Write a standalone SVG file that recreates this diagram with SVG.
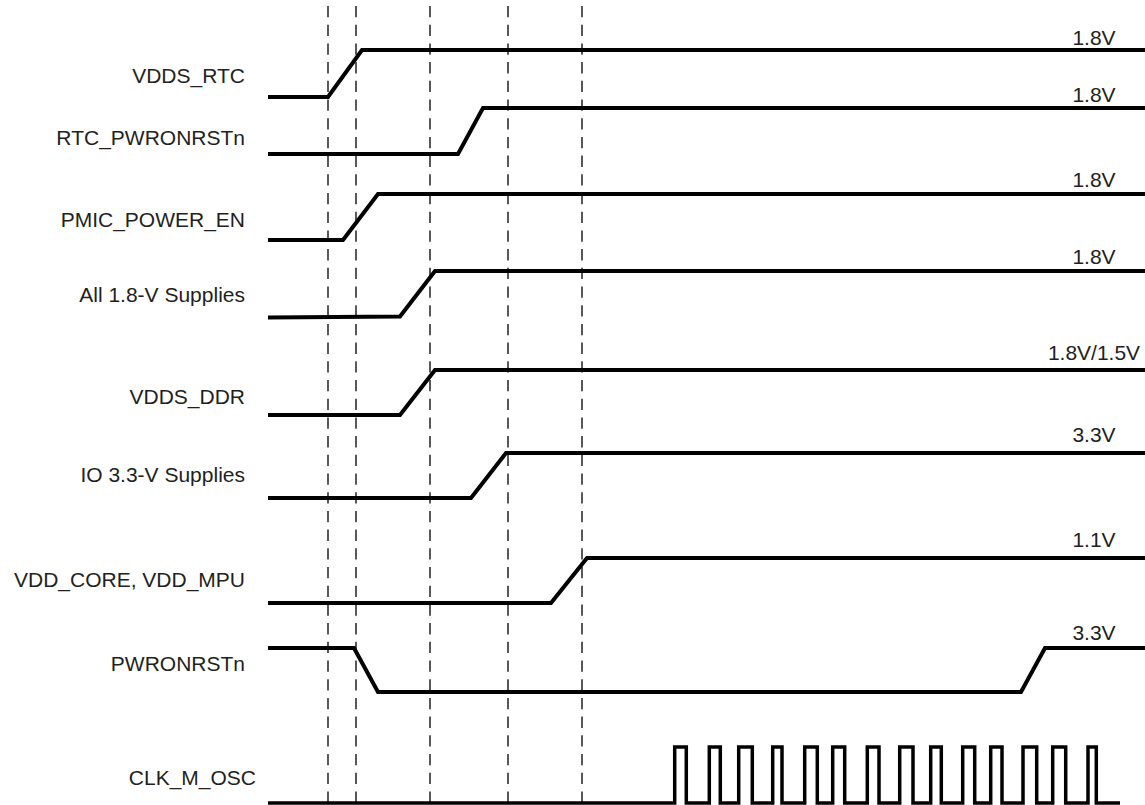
<svg xmlns="http://www.w3.org/2000/svg" width="1145" height="805" viewBox="0 0 1145 805">
<style>
.lbl{font-family:"Liberation Sans",Arial,sans-serif;font-size:21px;fill:#231f20;text-anchor:end}
.val{font-family:"Liberation Sans",Arial,sans-serif;font-size:21px;fill:#231f20;text-anchor:middle}
.sig{fill:none;stroke:#000;stroke-width:4;stroke-linejoin:miter}
.clk{fill:none;stroke:#000;stroke-width:3.5;stroke-linejoin:miter}
.dash{stroke:#000;stroke-width:1.3;stroke-dasharray:11.3 7.4}
</style>
<rect width="1145" height="805" fill="#fff"/>
<g id="markers">
<line class="dash" x1="328" y1="6" x2="328" y2="805"/>
<line class="dash" x1="356" y1="6" x2="356" y2="805"/>
<line class="dash" x1="430" y1="6" x2="430" y2="805"/>
<line class="dash" x1="508" y1="6" x2="508" y2="805"/>
<line class="dash" x1="582" y1="6" x2="582" y2="805"/>
</g>
<g id="vdds_rtc">
<text class="lbl" x="245" y="83">VDDS_RTC</text>
<path class="sig" d="M268,97 L328,97 L362,50 L1145,50"/>
<text class="val" x="1094" y="45">1.8V</text>
</g>
<g id="rtc_pwronrstn">
<text class="lbl" x="245" y="145">RTC_PWRONRSTn</text>
<path class="sig" d="M268,154 L458,154 L483,108 L1145,108"/>
<text class="val" x="1094" y="102">1.8V</text>
</g>
<g id="pmic_power_en">
<text class="lbl" x="245" y="227">PMIC_POWER_EN</text>
<path class="sig" d="M268,240 L343,240 L378,194 L1145,194"/>
<text class="val" x="1094" y="187">1.8V</text>
</g>
<g id="all_18v">
<text class="lbl" x="245" y="302">All 1.8-V Supplies</text>
<path class="sig" d="M268,317.5 L400,316.5 L435,271 L1145,271"/>
<text class="val" x="1094" y="264">1.8V</text>
</g>
<g id="vdds_ddr">
<text class="lbl" x="245" y="404">VDDS_DDR</text>
<path class="sig" d="M268,415 L400,415 L435,370 L1145,370"/>
<text class="val" x="1094" y="360">1.8V/1.5V</text>
</g>
<g id="io_33v">
<text class="lbl" x="245" y="482">IO 3.3-V Supplies</text>
<path class="sig" d="M268,498 L471,498 L506,453 L1145,453"/>
<text class="val" x="1094" y="442">3.3V</text>
</g>
<g id="vdd_core">
<text class="lbl" x="245" y="587">VDD_CORE, VDD_MPU</text>
<path class="sig" d="M268,603 L551,603 L587,558 L1145,558"/>
<text class="val" x="1094" y="547">1.1V</text>
</g>
<g id="pwronrstn">
<text class="lbl" x="245" y="671">PWRONRSTn</text>
<path class="sig" d="M268,648 L354,648 L378,692 L1021,692 L1045,648 L1145,648"/>
<text class="val" x="1094" y="640">3.3V</text>
</g>
<g id="clk_m_osc">
<text class="lbl" x="256" y="785">CLK_M_OSC</text>
<path class="clk" d="M268,803 L674.7,803 V747 H686.3 V803 H709.3 V747 H720.3 V803 H738.7 V747 H752.3 V803 H772.7 V747 H782 V803 H804.7 V747 H817.3 V803 H832.7 V747 H844.7 V803 H867.3 V747 H879 V803 H899.7 V747 H913 V803 H930.7 V747 H941.3 V803 H962.7 V747 H974.7 V803 H990.7 V747 H1002 V803 H1023 V747 H1036.7 V803 H1052.7 V747 H1065.7 V803 H1088 V747 H1096.3 V803 H1120"/>
</g>
</svg>
